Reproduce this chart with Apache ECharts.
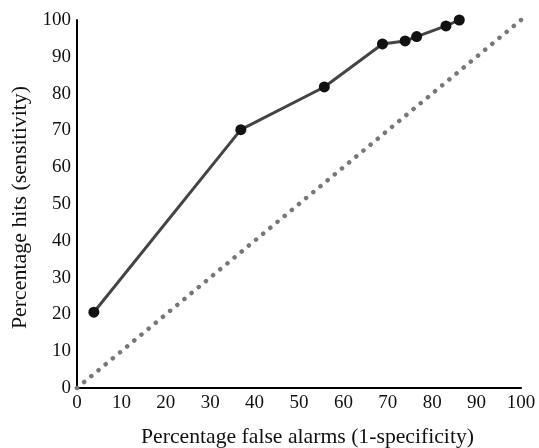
<!DOCTYPE html>
<html>
<head>
<meta charset="utf-8">
<script src="https://cdn.jsdelivr.net/npm/echarts@6/dist/echarts.min.js"></script>
<style>
  html, body { margin: 0; padding: 0; background: #fff; }
  #box { width: 539px; height: 448px; }
</style>
</head>
<body>
<div id="box"></div>
<script>
  // ROC curve points: false alarms (x) vs hits (y), in percent
  const falseAlarms = [3.8, 36.9, 55.7, 68.8, 73.9, 76.5, 83.1, 86.1];
  const hits = [20.6, 70.2, 81.8, 93.5, 94.3, 95.5, 98.4, 100];
  // chance diagonal
  const chanceX = [0, 100];
  const chanceY = [0, 100];

  const font = 'Liberation Serif, Times New Roman, serif';

  const chart = echarts.init(document.getElementById('box'));
  chart.setOption({
    animation: false,
    grid: { left: 77, right: 18, top: 20, bottom: 60, outerBoundsMode: 'none' },
    xAxis: {
      type: 'value',
      min: 0,
      max: 100,
      interval: 10,
      name: 'Percentage false alarms (1-specificity)',
      nameLocation: 'middle',
      nameGap: 38,
      nameTextStyle: { fontFamily: font, fontSize: 21.7, color: '#111', padding: [0, 0, 0, 17] },
      axisLine: { show: true, lineStyle: { color: '#000', width: 2 } },
      axisTick: { show: false },
      splitLine: { show: false },
      axisLabel: { fontFamily: font, fontSize: 19, color: '#111', margin: 6 },
    },
    yAxis: {
      type: 'value',
      min: 0,
      max: 100,
      interval: 10,
      name: 'Percentage hits (sensitivity)',
      nameLocation: 'middle',
      nameGap: 44,
      nameRotate: 90,
      nameTextStyle: { fontFamily: font, fontSize: 21.9, color: '#111', padding: [0, 7, 0, 0] },
      axisLine: { show: true, lineStyle: { color: '#000', width: 2 } },
      axisTick: { show: false },
      splitLine: { show: false },
      axisLabel: { fontFamily: font, fontSize: 19, color: '#111', margin: 6 },
    },
    series: [
      {
        type: 'line',
        data: chanceX.map((x, i) => [x, chanceY[i]]),
        symbol: 'none',
        lineStyle: { color: '#777', width: 4.5, type: [0.1, 9.2], cap: 'round' },
        z: 1,
      },
      {
        type: 'line',
        data: falseAlarms.map((x, i) => [x, hits[i]]),
        symbol: 'circle',
        symbolSize: 11,
        itemStyle: { color: '#111' },
        lineStyle: { color: '#444', width: 3 },
        z: 2,
      },
    ],
  });
</script>
</body>
</html>
